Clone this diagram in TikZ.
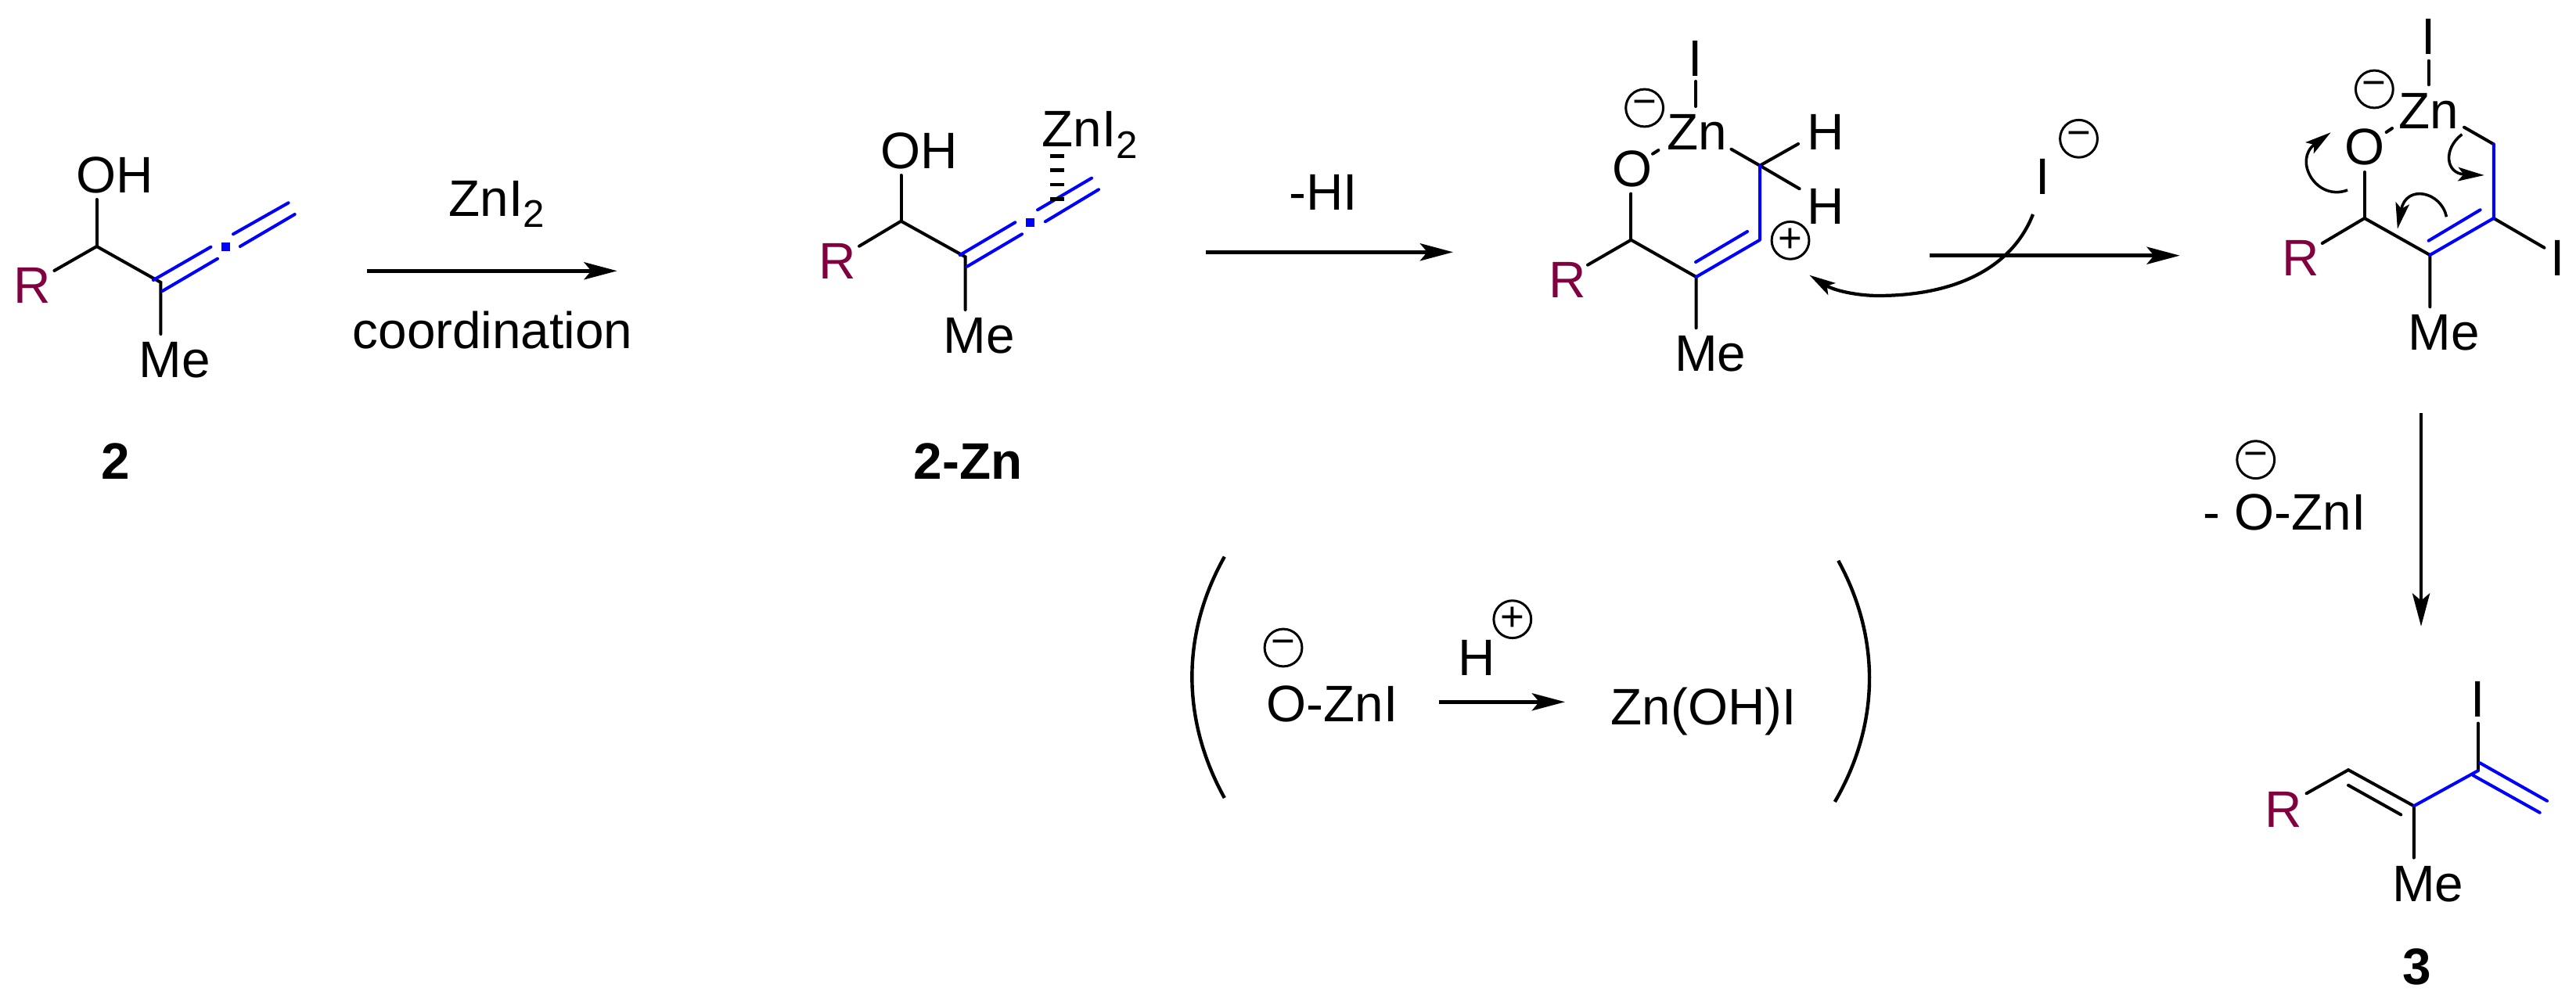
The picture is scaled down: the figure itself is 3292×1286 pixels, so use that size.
\documentclass[tikz,border=0pt]{standalone}
\usepackage{fontspec}
\setmainfont{Liberation Sans}
\usetikzlibrary{arrows.meta}
\definecolor{rpurple}{RGB}{128,0,64}
\newcommand{\subtwo}{\raisebox{-4pt}{\fontsize{14}{16}\selectfont 2}}
\tikzset{
    bond/.style={line width=1.14pt, line cap=round},
    bluebond/.style={bond, blue},
    rxn/.style={line width=1.34pt, -{Stealth[length=12pt, width=6.3pt, inset=2.6pt]}},
    curly/.style={line width=1pt, -{Stealth[length=9.5pt, width=5pt, inset=2pt]}},
    atom/.style={inner sep=0pt, anchor=base west, font=\fontsize{18.66}{22}\selectfont},
    atomc/.style={atom, anchor=base},
    label/.style={atom, font=\fontsize{18.66}{22}\selectfont\bfseries},
    rgroup/.style={atom, text=rpurple},
    charge/.style={circle, draw, line width=0.85pt, minimum size=13.6pt, inner sep=0pt, font=\fontsize{15}{16}\selectfont},
    allenedot/.style={rectangle, fill=blue, minimum size=3.13pt, inner sep=0pt},
    hash/.style={line width=5pt, dash pattern=on 1.34pt off 3.87pt},
    paren/.style={line width=1.25pt}
}
\begin{document}
\begin{tikzpicture}[x=0.01cm, y=-0.01cm]
    \useasboundingbox (0,0) rectangle (3292,1286);

    % Allenol 2
    \node[atom] (ohA) at (97,247) {OH};
    \node[rgroup] (rA) at (17,388) {R};
    \node[atom] (meA) at (177,483) {Me};
    \node[label] (labA) at (129,612.7) {2};
    \coordinate (a1) at (123.6,315);
    \coordinate (a2) at (205.4,361);
    \coordinate (aO) at (123.6,255);
    \coordinate (aR) at (69.4,346);
    \coordinate (aMe) at (205.4,427);
    \draw[bond] (aO) -- (a1);
    \draw[bond] (aR) -- (a1) -- (a2) -- (aMe);
    \coordinate (aa1) at (196,358);
    \coordinate (aa2) at (269.4,315.7);
    \coordinate (aa3) at (207.6,372);
    \coordinate (aa4) at (278,330.7);
    \coordinate (aa5) at (298,299.3);
    \coordinate (aa6) at (368.6,259.3);
    \coordinate (aa7) at (306.8,315);
    \coordinate (aa8) at (376.7,274);
    \draw[bluebond] (aa1) -- (aa2);
    \draw[bluebond] (aa3) -- (aa4);
    \draw[bluebond] (aa5) -- (aa6);
    \draw[bluebond] (aa7) -- (aa8);
    \node[allenedot] (dotA) at (288.3,316) {};

    % Coordination step
    \node[atom] (znA) at (573,276.7) {ZnI\subtwo};
    \node[atom] (coord) at (450,446) {coordination};
    \coordinate (s1) at (469,346.3);
    \coordinate (e1) at (788.6,346.3);
    \draw[rxn] (s1) -- (e1);

    % Complex 2-Zn
    \node[atom] (ohB) at (1125,216) {OH};
    \node[rgroup] (rB) at (1046,356.7) {R};
    \node[atom] (meB) at (1205,451.7) {Me};
    \node[atom] (znB) at (1331,188) {ZnI\subtwo};
    \node[label] (labB) at (1167,612.7) {2-Zn};
    \coordinate (b1) at (1151.5,282.7);
    \coordinate (b2) at (1233.6,328.3);
    \coordinate (bO) at (1151.5,224);
    \coordinate (bR) at (1098,314.7);
    \coordinate (bMe) at (1233.6,396);
    \draw[bond] (bO) -- (b1);
    \draw[bond] (bR) -- (b1) -- (b2) -- (bMe);
    \coordinate (ba1) at (1226.7,326);
    \coordinate (ba2) at (1297.3,284.3);
    \coordinate (ba3) at (1235.9,340.7);
    \coordinate (ba4) at (1306,299.3);
    \coordinate (ba5) at (1326,268.3);
    \coordinate (ba6) at (1395,227.7);
    \coordinate (ba7) at (1335.8,283.3);
    \coordinate (ba8) at (1404,242.3);
    \draw[bluebond] (ba1) -- (ba2);
    \draw[bluebond] (ba3) -- (ba4);
    \draw[bluebond] (ba5) -- (ba6);
    \draw[bluebond] (ba7) -- (ba8);
    \node[allenedot] (dotB) at (1316.2,284.3) {};
    \coordinate (hs) at (1351,256.6);
    \coordinate (he) at (1351,197);
    \draw[hash] (hs) -- (he);

    % Loss of HI
    \node[atom] (hi) at (1647,268.7) {-HI};
    \coordinate (s2) at (1541.3,322.3);
    \coordinate (e2) at (1857,322.3);
    \draw[rxn] (s2) -- (e2);

    % Cation
    \node[atom] (oC) at (2060,239) {O};
    \node[atom] (znC) at (2130,191.7) {Zn};
    \node[atomc] (iC) at (2167,97.7) {I};
    \node[atom] (h1C) at (2309,191.7) {H};
    \node[atom] (h2C) at (2309,286.7) {H};
    \node[rgroup] (rC) at (1979,380.7) {R};
    \node[atom] (meC) at (2139.5,475) {Me};
    \node[charge] (negC) at (2101.6,138) {−};
    \node[charge] (posC) at (2288,307.3) {+};
    \coordinate (c1) at (2084.4,306.7);
    \coordinate (c2) at (2167.6,354);
    \coordinate (c3) at (2249,306.7);
    \coordinate (c4) at (2249,211.7);
    \coordinate (cO) at (2084.4,247.7);
    \coordinate (cR) at (2029,338.7);
    \coordinate (cMe) at (2167.6,419.3);
    \coordinate (cZn) at (2212.4,190.7);
    \coordinate (cH1) at (2298,184);
    \coordinate (cH2) at (2299.6,241.3);
    \coordinate (cI1) at (2167,104);
    \coordinate (cI2) at (2167,136);
    \coordinate (cz1) at (2112,196.7);
    \coordinate (cz2) at (2119.4,192);
    \coordinate (cd1) at (2233,296);
    \coordinate (cd2) at (2167,335);
    \draw[bond] (cO) -- (c1);
    \draw[bond] (cR) -- (c1) -- (c2) -- (cMe);
    \draw[bond] (cZn) -- (c4) -- (cH1);
    \draw[bond] (c4) -- (cH2);
    \draw[bond] (cI1) -- (cI2);
    \draw[bond] (cz1) -- (cz2);
    \draw[bluebond, line join=round] (c4) -- (c3) -- (c2);
    \draw[bluebond] (cd1) -- (cd2);

    % Iodide attack
    \node[atomc] (iD) at (2610.5,248.3) {I};
    \node[charge] (negD) at (2656.5,177.3) {−};
    \coordinate (s3) at (2466,326.7);
    \coordinate (e3) at (2785.7,326.7);
    \draw[rxn] (s3) -- (e3);
    \coordinate (cs) at (2598,274);
    \coordinate (cm) at (2400,378);
    \coordinate (ce) at (2312.3,351.7);
    \draw[curly, line width=1.2pt] (cs) .. controls (2570,345) and (2495,378) .. (cm) .. controls (2375,378) and (2345,372) .. (ce);

    % Iodo intermediate
    \node[atom] (oE) at (2996,211) {O};
    \node[atom] (znE) at (3065,164.3) {Zn};
    \node[atomc] (iE) at (3103.6,69.3) {I};
    \node[atomc] (i2E) at (3268.6,352.7) {I};
    \node[rgroup] (rE) at (2915.5,352.7) {R};
    \node[atom] (meE) at (3077,447.7) {Me};
    \node[charge] (negE) at (3034.3,114) {−};
    \coordinate (d1) at (3021.7,279);
    \coordinate (d2) at (3105.3,326);
    \coordinate (d3) at (3186.7,279);
    \coordinate (d4) at (3186.7,184.3);
    \coordinate (dO) at (3021.7,220);
    \coordinate (dR) at (2967.7,311);
    \coordinate (dMe) at (3105.3,392.3);
    \coordinate (dZn) at (3149,162.7);
    \coordinate (dI) at (3251.5,316.7);
    \coordinate (dI1) at (3103.6,77.7);
    \coordinate (dI2) at (3103.6,108.3);
    \coordinate (dz1) at (3049.6,169);
    \coordinate (dz2) at (3057,164);
    \coordinate (dd1) at (3169.6,268.3);
    \coordinate (dd2) at (3103.6,307.7);
    \draw[bond] (dO) -- (d1);
    \draw[bond] (dR) -- (d1) -- (d2) -- (dMe);
    \draw[bond] (dZn) -- (d4);
    \draw[bond] (d3) -- (dI);
    \draw[bond] (dI1) -- (dI2);
    \draw[bond] (dz1) -- (dz2);
    \draw[bluebond, line join=round] (d4) -- (d3) -- (d2);
    \draw[bluebond] (dd1) -- (dd2);

    % Electron pushing
    \coordinate (pa1) at (3000,243);
    \coordinate (pa2) at (2978.5,169.3);
    \coordinate (pb1) at (3146.3,171.7);
    \coordinate (pb2) at (3174.7,224);
    \coordinate (pc1) at (3126.4,277.3);
    \coordinate (pc2) at (3063.8,292.7);
    \draw[curly] (pa1) .. controls (2960,258) and (2930,205) .. (pa2);
    \draw[curly] (pb1) .. controls (3122,190) and (3125,222) .. (pb2);
    \draw[curly] (pc1) .. controls (3120,245) and (3075,235) .. (pc2);

    % Elimination step
    \node[atom] (ozn) at (2815,678) {- O-ZnI};
    \node[charge] (negF) at (2882.7,587.7) {−};
    \coordinate (s4) at (3094,527.6);
    \coordinate (e4) at (3094,800.8);
    \draw[rxn] (s4) -- (e4);

    % Diene 3
    \node[rgroup] (rG) at (2894,1057) {R};
    \node[atom] (meG) at (3056.5,1152.6) {Me};
    \node[atomc] (iG) at (3166.7,916) {I};
    \node[label] (labG) at (3070,1258) {3};
    \coordinate (g1) at (3001,984.2);
    \coordinate (g2) at (3084.8,1030.3);
    \coordinate (g3) at (3166.7,985.2);
    \coordinate (gR) at (2947.5,1014.3);
    \coordinate (gMe) at (3084.8,1096.5);
    \coordinate (gI) at (3166.7,924.6);
    \coordinate (gd1) at (3001,1003.8);
    \coordinate (gd2) at (3068.2,1041.4);
    \coordinate (gb1) at (3169,975.2);
    \coordinate (gb2) at (3255,1023.8);
    \coordinate (gb3) at (3160.5,991.2);
    \coordinate (gb4) at (3245.7,1038.8);
    \draw[bond] (gR) -- (g1) -- (g2) -- (gMe);
    \draw[bond] (gd1) -- (gd2);
    \draw[bond] (gI) -- (g3);
    \draw[bluebond] (g2) -- (g3);
    \draw[bluebond] (gb1) -- (gb2);
    \draw[bluebond] (gb3) -- (gb4);

    % Bracketed side reaction
    \node[atom] (oznH) at (1618,922.3) {O-ZnI};
    \node[charge] (negH) at (1640,828) {−};
    \node[atom] (hH) at (1863,863.3) {H};
    \node[charge] (posH) at (1932.8,791.7) {+};
    \node[atom] (znoh) at (2058,926.7) {Zn(OH)I};
    \coordinate (s5) at (1839,897.3);
    \coordinate (e5) at (2000,897.3);
    \draw[rxn] (s5) -- (e5);
    \coordinate (lp1) at (1564.8,711.7);
    \coordinate (lp2) at (1564.8,1020);
    \coordinate (rp1) at (2349.2,716.7);
    \coordinate (rp2) at (2344.8,1025);
    \draw[paren] (lp1) .. controls (1509.5,810) and (1509.5,920) .. (lp2);
    \draw[paren] (rp1) .. controls (2403,815) and (2403,925) .. (rp2);
\end{tikzpicture}
\end{document}
